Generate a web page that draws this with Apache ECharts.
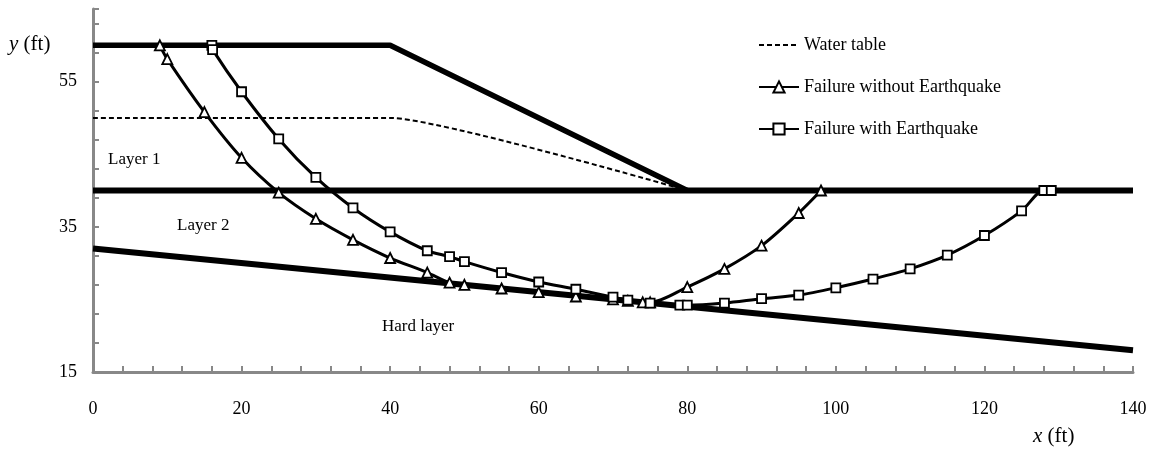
<!DOCTYPE html>
<html>
<head>
<meta charset="utf-8">
<title>Slope failure surfaces</title>
<script src="https://cdn.jsdelivr.net/npm/echarts@6/dist/echarts.min.js"></script>
<style>
  html, body { margin: 0; padding: 0; background: #fff; }
  #chart { width: 1156px; height: 454px; }
</style>
</head>
<body>
<div id="chart"></div>
<script>
// ground profile (ft)
const groundX = [0, 40, 80];
const groundY = [60, 60, 40];
// layer 1 / layer 2 boundary
const boundaryX = [0, 140];
const boundaryY = [40, 40];
// top of hard layer
const hardX = [0, 140];
const hardY = [32, 18];
// water table
const waterX = [0, 40, 80];
const waterY = [50, 50, 40];
// failure surface without earthquake
const noEqX = [9, 10, 15, 20, 25, 30, 35, 40, 45, 48, 50, 55, 60, 65, 70, 72, 74, 75, 80, 85, 90, 95, 98];
const noEqY = [60, 58.1, 50.8, 44.5, 39.7, 36.1, 33.2, 30.7, 28.7, 27.3, 27.0, 26.5, 26.0, 25.4, 25.0, 24.8, 24.6, 24.6, 26.7, 29.2, 32.4, 36.9, 40];
// failure surface with earthquake
const eqX = [16, 16.1, 20, 25, 30, 35, 40, 45, 48, 50, 55, 60, 65, 70, 72, 75, 79, 80, 85, 90, 95, 100, 105, 110, 115, 120, 125, 128, 129];
const eqY = [60, 59.4, 53.6, 47.1, 41.8, 37.6, 34.3, 31.7, 30.9, 30.2, 28.7, 27.4, 26.4, 25.3, 24.9, 24.5, 24.2, 24.2, 24.5, 25.1, 25.6, 26.6, 27.8, 29.2, 31.1, 33.8, 37.2, 40, 40];

const pairs = (xs, ys) => xs.map((x, i) => [x, ys[i]]);
const serif = 'Liberation Serif';

const chart = echarts.init(document.getElementById('chart'));

// 坐标轴公共样式
const axisCommon = {
  axisLine: { show: true, lineStyle: { color: '#888', width: 3 } },
  axisTick: { show: true, inside: true, length: 6, lineStyle: { color: '#888', width: 2 } },
  splitLine: { show: false },
  axisLabel: { color: '#000', fontFamily: serif, fontSize: 18 }
};

const option = {
  animation: false,
  backgroundColor: '#fff',
  grid: { left: 93, right: 23, top: 9, bottom: 82 },
  legend: {
    orient: 'vertical',
    left: 753,
    top: 31,
    itemWidth: 40,
    itemHeight: 14,
    itemGap: 24,
    data: [
      // 虚线图例不画圆点
      { name: 'Water table', itemStyle: { opacity: 0 } },
      'Failure without Earthquake',
      'Failure with Earthquake'
    ],
    textStyle: { color: '#000', fontFamily: serif, fontSize: 18 }
  },
  xAxis: {
    type: 'value',
    min: 0,
    max: 140,
    interval: 4,
    ...axisCommon,
    axisLabel: {
      ...axisCommon.axisLabel,
      margin: 28,
      formatter: v => (v % 20 === 0 ? String(v) : '')
    }
  },
  yAxis: {
    type: 'value',
    min: 15,
    max: 65,
    interval: 4,
    ...axisCommon,
    axisLabel: {
      ...axisCommon.axisLabel,
      margin: 16,
      formatter: v => ((v - 15) % 20 === 0 && v < 60 ? String(v) : '')
    }
  },
  graphic: [
    { type: 'text', left: 9, top: 34, style: {
      text: '{i|y} (ft)', fill: '#000', font: '21px ' + serif,
      rich: { i: { fontStyle: 'italic', fontFamily: serif, fontSize: 21 } } } },
    { type: 'text', left: 1033, top: 426, style: {
      text: '{i|x} (ft)', fill: '#000', font: '21px ' + serif,
      rich: { i: { fontStyle: 'italic', fontFamily: serif, fontSize: 21 } } } },
    { type: 'text', left: 108, top: 151, style: { text: 'Layer 1', fill: '#000', font: '17px ' + serif } },
    { type: 'text', left: 177, top: 217, style: { text: 'Layer 2', fill: '#000', font: '17px ' + serif } },
    { type: 'text', left: 382, top: 318, style: { text: 'Hard layer', fill: '#000', font: '17px ' + serif } }
  ],
  series: [
    {
      name: 'Ground', type: 'line', data: pairs(groundX, groundY),
      symbol: 'none', lineStyle: { color: '#000', width: 5.5 }, z: 2
    },
    {
      name: 'Boundary', type: 'line', data: pairs(boundaryX, boundaryY),
      symbol: 'none', lineStyle: { color: '#000', width: 6 }, z: 2
    },
    {
      name: 'Hard', type: 'line', data: pairs(hardX, hardY),
      symbol: 'none', lineStyle: { color: '#000', width: 6 }, z: 2
    },
    {
      name: 'Water table', type: 'line', data: pairs(waterX, waterY),
      symbol: 'none', smooth: 0.15, color: '#000',
      lineStyle: { color: '#000', width: 2, type: [5, 3] }, z: 3
    },
    {
      name: 'Failure without Earthquake', type: 'line', data: pairs(noEqX, noEqY),
      smooth: 0.3, symbol: 'triangle', symbolSize: 10, color: '#000',
      itemStyle: { color: '#fff', borderColor: '#000', borderWidth: 1.8 },
      lineStyle: { color: '#000', width: 3 }, z: 4
    },
    {
      name: 'Failure with Earthquake', type: 'line', data: pairs(eqX, eqY),
      smooth: 0.3, symbol: 'rect', symbolSize: 9, color: '#000',
      itemStyle: { color: '#fff', borderColor: '#000', borderWidth: 1.8 },
      lineStyle: { color: '#000', width: 3 }, z: 4
    }
  ]
};

chart.setOption(option);
</script>
</body>
</html>
